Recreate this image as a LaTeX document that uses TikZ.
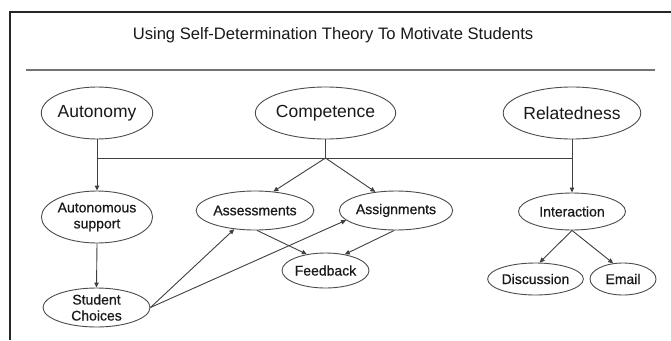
\documentclass[tikz,border=0pt]{standalone}
\usepackage{fontspec}
\setmainfont{Liberation Sans}
\newfontfamily\medfont{Liberation Sans}[FakeBold=0.6]
\usetikzlibrary{shapes.geometric,arrows.meta}
\begin{document}
\begin{tikzpicture}[x=1pt,y=-1pt,
  oval/.style={ellipse,draw=black!70,line width=0.9pt,inner sep=0pt,text=black!90},
  bigoval/.style={oval,font=\fontsize{17.5}{19}\selectfont},
  smalloval/.style={oval,font=\medfont\fontsize{14}{16}\selectfont,align=center},
  link/.style={draw=black!75,line width=0.9pt},
  arr/.style={link,-{Triangle[length=5pt,width=4.5pt]}}]
\useasboundingbox (0,0) rectangle (671,340);
\fill[white] (0,0) rectangle (671,340);

% outer frame (top and left edges)
\draw[line width=2pt,black!85] (10,340) -- (10,12) -- (671,12);

% heading and rule
\node[text=black!90] (title) at (333,35) {\fontsize{16.6}{20}\selectfont Using Self-Determination Theory To Motivate Students};
\draw[line width=1.6pt,black!55] (26,70) -- (655,70);

% needs
\node[bigoval,minimum width=106pt,minimum height=52pt] (auto) at (97,113) {Autonomy};
\node[bigoval,minimum width=107pt,minimum height=52pt] (comp) at (325.5,113) {Competence};
\node[bigoval,minimum width=108pt,minimum height=52pt] (rel) at (572,113) {Relatedness};

% second level
\node[smalloval,minimum width=107pt,minimum height=52pt] (autosup) at (97,217) {Autonomous\\support};
\node[smalloval,minimum width=106pt,minimum height=39pt] (assess) at (255,210.5) {Assessments};
\node[smalloval,minimum width=106pt,minimum height=39pt] (assign) at (396,210.5) {Assignments};
\node[smalloval,minimum width=107pt,minimum height=37pt] (inter) at (572,211.5) {Interaction};

% third level
\node[smalloval,minimum width=107pt,minimum height=39pt] (choice) at (96.5,307.5) {Student\\Choices};
\node[smalloval,minimum width=71pt,minimum height=35pt] (feed) at (325.5,270.5) {Feedback};
\node[smalloval,minimum width=71pt,minimum height=32pt] (disc) at (535.5,279) {Discussion};
\node[smalloval,minimum width=66pt,minimum height=32pt] (mail) at (623,279) {Email};

% junctions on the cross bar
\coordinate (jL) at (auto.south |- 0,158);
\coordinate (jC) at (comp.south |- 0,158);
\coordinate (jR) at (rel.south |- 0,158);

\draw[link] (jL) -- (jR);
\draw[link] (comp.south) -- (jC);
\draw[arr] (auto.south) -- (autosup.north);
\draw[arr] (rel.south) -- (inter.north);
\draw[arr] (autosup.south) -- (choice.north);

\draw[arr] (jC) -- (assess.46);
\draw[arr] (jC) -- (assign.138);

\draw[arr] (assess.-84) -- (feed.139);
\draw[arr] (assign.-95) -- (feed.40);

\draw[arr] (choice.east) -- (assess.222);
\draw[arr] (choice.east) -- (assign.191);

\draw[arr] (inter.south) -- (disc.76);
\draw[arr] (inter.south) -- (mail.122);
\end{tikzpicture}
\end{document}
